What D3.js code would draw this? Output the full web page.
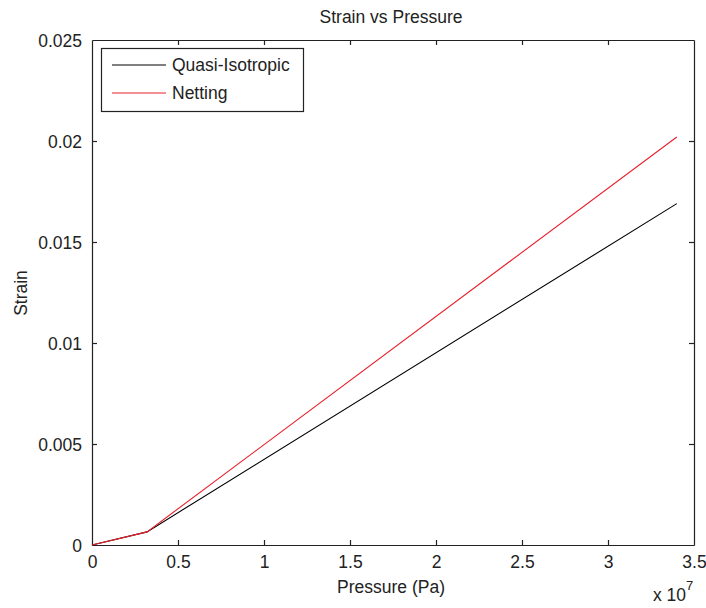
<!DOCTYPE html>
<html>
<head>
<meta charset="utf-8">
<script src="https://cdn.jsdelivr.net/npm/d3@7"></script>
<style>
  html, body { margin: 0; padding: 0; background: #fff; }
  svg { display: block; font-family: "Liberation Sans", Arial, sans-serif; }
</style>
</head>
<body>
<svg id="chart" width="706" height="608"></svg>
<script>
// ---- data ----
const pressure = [0, 3.2e6, 3.4e7];
const quasiIsotropic = [0, 0.00065, 0.0169];
const netting = [0, 0.00065, 0.0202];
const seriesNames = ["Quasi-Isotropic", "Netting"];
const seriesColors = ["#000000", "#e8202c"];
const xTicks = [0, 0.5e7, 1e7, 1.5e7, 2e7, 2.5e7, 3e7, 3.5e7];
const xTickLabels = ["0", "0.5", "1", "1.5", "2", "2.5", "3", "3.5"];
const yTicks = [0, 0.005, 0.01, 0.015, 0.02, 0.025];
const yTickLabels = ["0", "0.005", "0.01", "0.015", "0.02", "0.025"];

// ---- layout ----
const svg = d3.select("#chart");
const L = 92, R = 694, T = 40, B = 545;
const x = d3.scaleLinear().domain([0, 3.5e7]).range([L, R]);
const y = d3.scaleLinear().domain([0, 0.025]).range([B, T]);
const fs = 17.5;
const axisColor = "#222";
const tickLen = 5;

// axes with inward ticks
const gBottom = svg.append("g").attr("transform", `translate(0,${B})`)
  .call(d3.axisBottom(x).tickValues(xTicks).tickFormat((d, i) => xTickLabels[i])
        .tickSizeInner(-tickLen).tickSizeOuter(0).tickPadding(10));
const gTop = svg.append("g").attr("transform", `translate(0,${T})`)
  .call(d3.axisTop(x).tickValues(xTicks).tickFormat("")
        .tickSizeInner(-tickLen).tickSizeOuter(0));
const gLeft = svg.append("g").attr("transform", `translate(${L},0)`)
  .call(d3.axisLeft(y).tickValues(yTicks).tickFormat((d, i) => yTickLabels[i])
        .tickSizeInner(-tickLen).tickSizeOuter(0).tickPadding(10));
const gRight = svg.append("g").attr("transform", `translate(${R},0)`)
  .call(d3.axisRight(y).tickValues(yTicks).tickFormat("")
        .tickSizeInner(-tickLen).tickSizeOuter(0));

[gBottom, gTop, gLeft, gRight].forEach(g => {
  g.select(".domain").attr("stroke", axisColor).attr("stroke-width", 1.2);
  g.selectAll(".tick line").attr("stroke", axisColor).attr("stroke-width", 1.2);
  g.selectAll(".tick text").attr("fill", "#222").style("font-size", fs + "px")
    .style("font-family", '"Liberation Sans", Arial, sans-serif');
});
// remove edge ticks that coincide with box
gBottom.selectAll(".tick").filter(d => d === 0 || d === 3.5e7).select("line").remove();
gTop.selectAll(".tick").filter(d => d === 0 || d === 3.5e7).select("line").remove();
gLeft.selectAll(".tick").filter(d => d === 0 || d === 0.025).select("line").remove();
gRight.selectAll(".tick").filter(d => d === 0 || d === 0.025).select("line").remove();
gLeft.selectAll(".tick text").attr("dy", "0.36em");
gBottom.selectAll(".tick text").attr("dy", "0.72em");

// lines
const line = d3.line().x(d => x(d[0])).y(d => y(d[1]));
const seriesData = [quasiIsotropic, netting].map(vals => pressure.map((p, i) => [p, vals[i]]));
svg.append("g").selectAll("path").data(seriesData).join("path")
  .attr("d", line)
  .attr("fill", "none")
  .attr("stroke", (d, i) => seriesColors[i])
  .attr("stroke-width", 1.1);

// title and labels
svg.append("text").attr("x", 391).attr("y", 23).attr("text-anchor", "middle")
  .style("font-size", fs + "px").attr("fill", "#222").text("Strain vs Pressure");
svg.append("text").attr("x", 391).attr("y", 593).attr("text-anchor", "middle")
  .style("font-size", fs + "px").attr("fill", "#222").text("Pressure (Pa)");
svg.append("text").attr("transform", "translate(27,293) rotate(-90)").attr("text-anchor", "middle")
  .style("font-size", fs + "px").attr("fill", "#222").text("Strain");
const exp = svg.append("text").attr("x", 653).attr("y", 601)
  .style("font-size", fs + "px").attr("fill", "#222");
exp.append("tspan").text("x 10");
exp.append("tspan").attr("dy", -11).style("font-size", "13px").text("7");

// legend
const lg = svg.append("g");
lg.append("rect").attr("x", 101.5).attr("y", 48.5).attr("width", 202).attr("height", 63)
  .attr("fill", "#fff").attr("stroke", axisColor).attr("stroke-width", 1.2);
seriesNames.forEach((name, i) => {
  const yy = 65 + i * 28;
  lg.append("line").attr("x1", 112).attr("x2", 166).attr("y1", yy).attr("y2", yy)
    .attr("stroke", seriesColors[i]).attr("stroke-width", 1.1);
  lg.append("text").attr("x", 172).attr("y", yy).attr("dy", "0.36em")
    .style("font-size", fs + "px").attr("fill", "#222").text(name);
});
</script>
</body>
</html>
